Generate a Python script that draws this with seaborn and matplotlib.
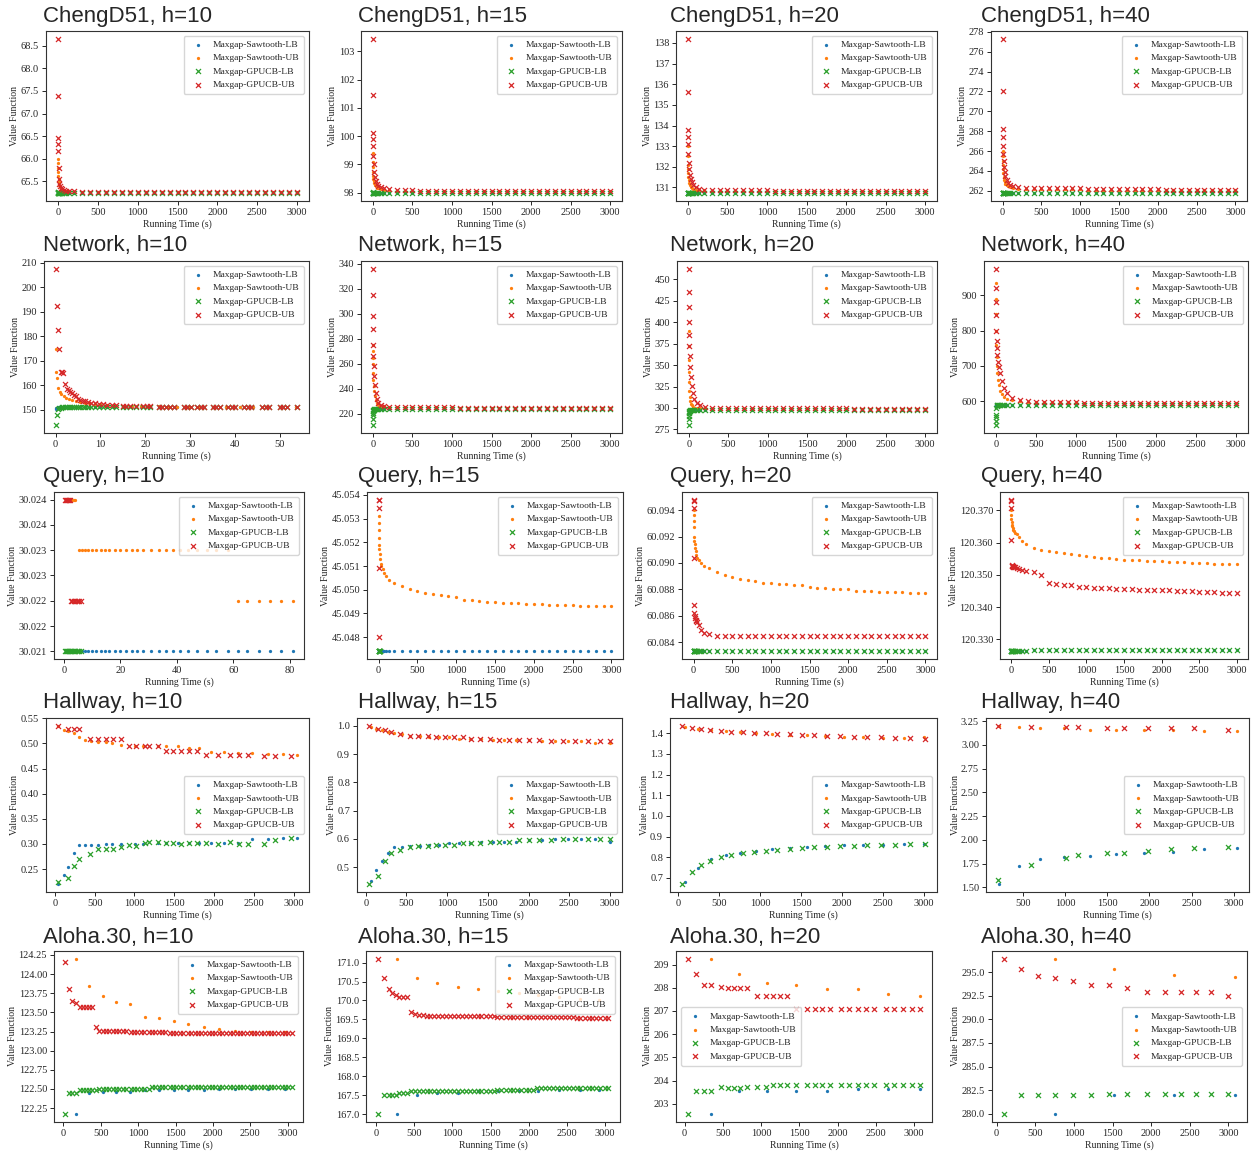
import matplotlib
matplotlib.use('Agg')
import matplotlib.pyplot as plt
import seaborn as sns
from matplotlib.ticker import FormatStrFormatter, MultipleLocator

sns.set_style('ticks')
plt.rcParams['font.family'] = ['Liberation Serif', 'DejaVu Serif']
plt.rcParams['axes.formatter.useoffset'] = False

# ---------------- labels ----------------
series_labels = ['Maxgap-Sawtooth-LB', 'Maxgap-Sawtooth-UB', 'Maxgap-GPUCB-LB', 'Maxgap-GPUCB-UB']
titles = [['ChengD51, h=10', 'ChengD51, h=15', 'ChengD51, h=20', 'ChengD51, h=40'],
          ['Network, h=10', 'Network, h=15', 'Network, h=20', 'Network, h=40'],
          ['Query, h=10', 'Query, h=15', 'Query, h=20', 'Query, h=40'],
          ['Hallway, h=10', 'Hallway, h=15', 'Hallway, h=20', 'Hallway, h=40'],
          ['Aloha.30, h=10', 'Aloha.30, h=15', 'Aloha.30, h=20', 'Aloha.30, h=40']]

# ---------------- shared time stamps (s) for the long dense runs ----------------
t_grid = [0, 1, 2, 3, 5, 8, 12, 18, 25, 35, 50, 70, 100, 140, 200,
          300, 400, 500, 600, 700, 800, 900, 1000,
          1100, 1200, 1300, 1400, 1500, 1600, 1700, 1800, 1900, 2000,
          2100, 2200, 2300, 2400, 2500, 2600, 2700, 2800, 2900, 3000]

# ---------------- ChengD51 ----------------
c10_saw_lb = [65.24, 65.24, 65.24, 65.24, 65.24, 65.24, 65.24, 65.24, 65.24, 65.24, 65.24, 65.24, 65.24, 65.24, 65.24,
              65.24, 65.24, 65.24, 65.24, 65.24, 65.24, 65.24, 65.24,
              65.24, 65.24, 65.24, 65.24, 65.24, 65.24, 65.24, 65.24, 65.24, 65.24,
              65.24, 65.24, 65.24, 65.24, 65.24, 65.24, 65.24, 65.24, 65.24, 65.24]
c10_saw_ub = [66.00, 65.90, 65.80, 65.72, 65.62, 65.55, 65.48, 65.42, 65.38, 65.35, 65.32, 65.30, 65.29, 65.28, 65.275,
              65.27, 65.27, 65.27, 65.27, 65.27, 65.27, 65.265, 65.265,
              65.265, 65.265, 65.265, 65.265, 65.265, 65.26, 65.26, 65.26, 65.26, 65.26,
              65.26, 65.26, 65.26, 65.26, 65.26, 65.26, 65.26, 65.26, 65.26, 65.26]
c10_gp_lb = [65.27, 65.26, 65.25, 65.245, 65.24, 65.24, 65.24, 65.24, 65.24, 65.24, 65.24, 65.24, 65.24, 65.24, 65.24,
             65.24, 65.24, 65.24, 65.24, 65.24, 65.24, 65.24, 65.24,
             65.24, 65.24, 65.24, 65.24, 65.24, 65.24, 65.24, 65.24, 65.24, 65.24,
             65.24, 65.24, 65.24, 65.24, 65.24, 65.24, 65.24, 65.24, 65.24, 65.24]
c10_gp_ub = [68.65, 67.38, 66.45, 66.32, 66.18, 65.80, 65.55, 65.45, 65.40, 65.36, 65.33, 65.31, 65.30, 65.29, 65.28,
             65.275, 65.27, 65.27, 65.27, 65.27, 65.27, 65.265, 65.265,
             65.265, 65.265, 65.265, 65.265, 65.265, 65.26, 65.26, 65.26, 65.26, 65.26,
             65.26, 65.26, 65.26, 65.26, 65.26, 65.26, 65.26, 65.26, 65.26, 65.26]

c15_saw_lb = [97.98, 97.98, 97.98, 97.98, 97.98, 97.98, 97.98, 97.98, 97.98, 97.98, 97.98, 97.98, 97.98, 97.98, 97.98,
              97.98, 97.98, 97.98, 97.98, 97.98, 97.98, 97.98, 97.98,
              97.98, 97.98, 97.98, 97.98, 97.98, 97.98, 97.98, 97.98, 97.98, 97.98,
              97.98, 97.98, 97.98, 97.98, 97.98, 97.98, 97.98, 97.98, 97.98, 97.98]
c15_saw_ub = [99.40, 99.10, 98.90, 98.75, 98.60, 98.50, 98.40, 98.33, 98.27, 98.22, 98.18, 98.15, 98.12, 98.10, 98.08,
              98.07, 98.07, 98.07, 98.07, 98.07, 98.07, 98.07, 98.07,
              98.06, 98.06, 98.06, 98.06, 98.06, 98.06, 98.06, 98.06, 98.06, 98.06,
              98.05, 98.05, 98.05, 98.05, 98.05, 98.05, 98.05, 98.05, 98.05, 98.05]
c15_gp_lb = [98.02, 98.00, 97.99, 97.98, 97.98, 97.98, 97.98, 97.98, 97.98, 97.98, 97.98, 97.98, 97.98, 97.98, 97.98,
             97.98, 97.98, 97.98, 97.98, 97.98, 97.98, 97.98, 97.98,
             97.98, 97.98, 97.98, 97.98, 97.98, 97.98, 97.98, 97.98, 97.98, 97.98,
             97.98, 97.98, 97.98, 97.98, 97.98, 97.98, 97.98, 97.98, 97.98, 97.98]
c15_gp_ub = [103.45, 101.45, 100.10, 99.90, 99.65, 99.30, 99.00, 98.75, 98.55, 98.42, 98.32, 98.25, 98.20, 98.15, 98.12,
             98.09, 98.08, 98.08, 98.07, 98.07, 98.07, 98.07, 98.07,
             98.06, 98.06, 98.06, 98.06, 98.06, 98.06, 98.06, 98.06, 98.06, 98.06,
             98.05, 98.05, 98.05, 98.05, 98.05, 98.05, 98.05, 98.05, 98.05, 98.05]

c20_saw_lb = [130.72, 130.72, 130.72, 130.72, 130.72, 130.72, 130.72, 130.72, 130.72, 130.72, 130.72, 130.72, 130.72, 130.72, 130.72,
              130.72, 130.72, 130.72, 130.72, 130.72, 130.72, 130.72, 130.72,
              130.72, 130.72, 130.72, 130.72, 130.72, 130.72, 130.72, 130.72, 130.72, 130.72,
              130.72, 130.72, 130.72, 130.72, 130.72, 130.72, 130.72, 130.72, 130.72, 130.72]
c20_saw_ub = [133.00, 132.50, 132.10, 131.90, 131.70, 131.50, 131.35, 131.20, 131.10, 131.02, 130.97, 130.93, 130.90, 130.88, 130.86,
              130.85, 130.85, 130.85, 130.85, 130.85, 130.85, 130.85, 130.85,
              130.83, 130.83, 130.83, 130.83, 130.83, 130.83, 130.83, 130.83, 130.83, 130.83,
              130.82, 130.82, 130.82, 130.82, 130.82, 130.82, 130.82, 130.82, 130.82, 130.82]
c20_gp_lb = [130.72, 130.72, 130.72, 130.72, 130.72, 130.72, 130.72, 130.72, 130.72, 130.72, 130.72, 130.72, 130.72, 130.72, 130.72,
             130.72, 130.72, 130.72, 130.72, 130.72, 130.72, 130.72, 130.72,
             130.72, 130.72, 130.72, 130.72, 130.72, 130.72, 130.72, 130.72, 130.72, 130.72,
             130.72, 130.72, 130.72, 130.72, 130.72, 130.72, 130.72, 130.72, 130.72, 130.72]
c20_gp_ub = [138.20, 135.60, 133.80, 133.45, 133.10, 132.60, 132.20, 131.90, 131.60, 131.40, 131.25, 131.10, 131.00, 130.95, 130.90,
             130.88, 130.88, 130.88, 130.88, 130.88, 130.88, 130.88, 130.88,
             130.85, 130.85, 130.85, 130.85, 130.85, 130.85, 130.85, 130.85, 130.85, 130.85,
             130.83, 130.83, 130.83, 130.83, 130.83, 130.83, 130.83, 130.83, 130.83, 130.83]

c40_saw_lb = [261.75, 261.75, 261.75, 261.75, 261.75, 261.75, 261.75, 261.75, 261.75, 261.75, 261.75, 261.75, 261.75, 261.75, 261.75,
              261.75, 261.75, 261.75, 261.75, 261.75, 261.75, 261.75, 261.75,
              261.75, 261.75, 261.75, 261.75, 261.75, 261.75, 261.75, 261.75, 261.75, 261.75,
              261.75, 261.75, 261.75, 261.75, 261.75, 261.75, 261.75, 261.75, 261.75, 261.75]
c40_saw_ub = [266.0, 265.5, 265.0, 264.6, 264.2, 263.8, 263.4, 263.1, 262.9, 262.7, 262.55, 262.45, 262.35, 262.28, 262.22,
              262.15, 262.15, 262.15, 262.15, 262.15, 262.15, 262.15, 262.15,
              262.1, 262.1, 262.1, 262.1, 262.1, 262.1, 262.1, 262.1, 262.1, 262.1,
              262.05, 262.05, 262.05, 262.05, 262.05, 262.05, 262.05, 262.05, 262.05, 262.05]
c40_gp_lb = [261.75, 261.75, 261.75, 261.75, 261.75, 261.75, 261.75, 261.75, 261.75, 261.75, 261.75, 261.75, 261.75, 261.75, 261.75,
             261.75, 261.75, 261.75, 261.75, 261.75, 261.75, 261.75, 261.75,
             261.75, 261.75, 261.75, 261.75, 261.75, 261.75, 261.75, 261.75, 261.75, 261.75,
             261.75, 261.75, 261.75, 261.75, 261.75, 261.75, 261.75, 261.75, 261.75, 261.75]
c40_gp_ub = [277.3, 272.0, 268.2, 267.4, 266.5, 265.7, 265.0, 264.4, 263.9, 263.5, 263.1, 262.8, 262.6, 262.45, 262.35,
             262.25, 262.25, 262.25, 262.25, 262.25, 262.25, 262.25, 262.25,
             262.15, 262.15, 262.15, 262.15, 262.15, 262.15, 262.15, 262.15, 262.15, 262.15,
             262.1, 262.1, 262.1, 262.1, 262.1, 262.1, 262.1, 262.1, 262.1, 262.1]

# ---------------- Network ----------------
n10_t_saw = [0.1, 0.2, 0.4, 0.6, 0.9, 1.3, 1.8, 2.4, 3.0, 3.7,
             4.5, 5.5, 6.5, 7.5, 8.7, 10.0, 11.5, 13.0, 15.0, 17.0,
             19.0, 21.0, 23.0, 25.0, 27.0, 29.5, 32.0, 35.0, 38.0, 41.0,
             44.0, 47.0, 50.0, 53.5]
n10_saw_lb = [150.5, 150.9, 151.0, 151.1, 151.15, 151.2, 151.2, 151.25, 151.25, 151.3,
              151.3, 151.3, 151.3, 151.3, 151.3, 151.3, 151.3, 151.3, 151.3, 151.3,
              151.3, 151.3, 151.3, 151.3, 151.3, 151.3, 151.3, 151.3, 151.3, 151.3,
              151.3, 151.3, 151.3, 151.3]
n10_saw_ub = [175.0, 165.5, 163.0, 159.0, 157.5, 156.3, 155.5, 154.8, 154.3, 153.9,
              153.5, 153.2, 153.0, 152.8, 152.5, 152.3, 152.1, 151.9, 151.8, 151.7,
              151.6, 151.5, 151.45, 151.4, 151.35, 151.3, 151.3, 151.25, 151.25, 151.2,
              151.2, 151.2, 151.2, 151.2]
n10_t_gp = [0.2, 0.3, 0.5, 0.8, 1.1, 1.4, 1.7, 2.1, 2.5, 2.9,
            3.3, 3.7, 4.1, 4.5, 5.0, 5.5, 6.0, 6.6, 7.2, 8.0,
            8.8, 9.6, 10.5, 11.5, 12.5, 13.5, 15.0, 15.8, 16.5, 18.0,
            19.5, 20.3, 21.0, 23.0, 23.8, 24.6, 25.5, 26.3, 28.6, 29.3,
            30.1, 31.5, 32.3, 33.0, 35.0, 35.8, 36.6, 38.5, 39.3, 40.0,
            42.0, 42.8, 43.5, 46.0, 46.8, 47.5, 50.0, 50.8, 51.5, 53.8]
n10_gp_lb = [143.8, 148.0, 150.5, 150.9, 151.0, 151.1, 151.2, 151.2, 151.25, 151.25,
             151.3, 151.3, 151.3, 151.3, 151.3, 151.3, 151.3, 151.3, 151.3, 151.3,
             151.3, 151.3, 151.3, 151.3, 151.3, 151.3, 151.3, 151.3, 151.3, 151.3,
             151.3, 151.3, 151.3, 151.3, 151.3, 151.3, 151.3, 151.3, 151.3, 151.3,
             151.3, 151.3, 151.3, 151.3, 151.3, 151.3, 151.3, 151.3, 151.3, 151.3,
             151.3, 151.3, 151.3, 151.3, 151.3, 151.3, 151.3, 151.3, 151.3, 151.3]
n10_gp_ub = [207.5, 192.5, 182.5, 175.0, 165.5, 165.3, 165.0, 160.5, 158.5, 158.0,
             157.5, 157.0, 156.0, 155.5, 154.5, 154.0, 153.8, 153.5, 153.2, 153.0,
             152.8, 152.5, 152.3, 152.1, 152.0, 151.9, 151.8, 151.7, 151.7, 151.6,
             151.5, 151.5, 151.5, 151.4, 151.4, 151.4, 151.3, 151.3, 151.3, 151.3,
             151.3, 151.3, 151.2, 151.2, 151.2, 151.2, 151.2, 151.2, 151.2, 151.2,
             151.2, 151.2, 151.2, 151.2, 151.2, 151.2, 151.2, 151.2, 151.2, 151.2]

n15_saw_lb = [223.0, 223.5, 223.8, 223.8, 223.8, 223.8, 223.8, 223.8, 223.8, 223.8, 223.8, 223.8, 223.8, 223.8, 223.8,
              223.8, 223.8, 223.8, 223.8, 223.8, 223.8, 223.8, 223.8,
              223.8, 223.8, 223.8, 223.8, 223.8, 223.8, 223.8, 223.8, 223.8, 223.8,
              223.8, 223.8, 223.8, 223.8, 223.8, 223.8, 223.8, 223.8, 223.8, 223.8]
n15_saw_ub = [275.0, 270.0, 265.0, 260.0, 253.0, 247.0, 242.0, 238.0, 234.0, 231.0, 229.0, 227.5, 226.5, 226.0, 225.7,
              225.3, 225.3, 225.3, 225.3, 225.3, 225.3, 225.3, 225.3,
              225.1, 225.1, 225.1, 225.1, 225.1, 225.1, 225.1, 225.1, 225.1, 225.1,
              224.9, 224.9, 224.9, 224.9, 224.9, 224.9, 224.9, 224.9, 224.9, 224.9]
n15_gp_lb = [211.0, 216.0, 219.0, 221.0, 222.0, 223.0, 223.5, 223.7, 223.8, 223.8, 223.8, 223.8, 223.8, 223.8, 223.8,
             223.8, 223.8, 223.8, 223.8, 223.8, 223.8, 223.8, 223.8,
             223.8, 223.8, 223.8, 223.8, 223.8, 223.8, 223.8, 223.8, 223.8, 223.8,
             223.8, 223.8, 223.8, 223.8, 223.8, 223.8, 223.8, 223.8, 223.8, 223.8]
n15_gp_ub = [336.0, 315.0, 298.0, 288.0, 275.0, 266.0, 258.0, 250.0, 243.0, 237.0, 232.0, 229.0, 227.0, 226.0, 225.5,
             225.2, 225.2, 225.2, 225.2, 225.2, 225.2, 225.2, 225.2,
             225.0, 225.0, 225.0, 225.0, 225.0, 225.0, 225.0, 225.0, 225.0, 225.0,
             224.8, 224.8, 224.8, 224.8, 224.8, 224.8, 224.8, 224.8, 224.8, 224.8]

n20_saw_lb = [294.0, 296.5, 297.5, 297.5, 297.5, 297.5, 297.5, 297.5, 297.5, 297.5, 297.5, 297.5, 297.5, 297.5, 297.5,
              297.5, 297.5, 297.5, 297.5, 297.5, 297.5, 297.5, 297.5,
              297.5, 297.5, 297.5, 297.5, 297.5, 297.5, 297.5, 297.5, 297.5, 297.5,
              297.5, 297.5, 297.5, 297.5, 297.5, 297.5, 297.5, 297.5, 297.5, 297.5]
n20_saw_ub = [390.0, 372.0, 356.0, 342.0, 330.0, 320.0, 313.0, 308.0, 305.0, 303.0, 301.5, 300.5, 300.0, 299.8, 299.6,
              299.4, 299.4, 299.4, 299.4, 299.4, 299.4, 299.4, 299.4,
              299.2, 299.2, 299.2, 299.2, 299.2, 299.2, 299.2, 299.2, 299.2, 299.2,
              299.0, 299.0, 299.0, 299.0, 299.0, 299.0, 299.0, 299.0, 299.0, 299.0]
n20_gp_lb = [280.0, 287.0, 291.0, 294.0, 295.5, 296.5, 297.0, 297.3, 297.5, 297.5, 297.5, 297.5, 297.5, 297.5, 297.5,
             297.5, 297.5, 297.5, 297.5, 297.5, 297.5, 297.5, 297.5,
             297.5, 297.5, 297.5, 297.5, 297.5, 297.5, 297.5, 297.5, 297.5, 297.5,
             297.5, 297.5, 297.5, 297.5, 297.5, 297.5, 297.5, 297.5, 297.5, 297.5]
n20_gp_ub = [462.0, 435.0, 418.0, 400.0, 385.0, 372.0, 360.0, 348.0, 336.0, 326.0, 318.0, 311.0, 306.0, 303.0, 301.0,
             300.2, 300.2, 300.2, 300.2, 300.2, 300.2, 300.2, 300.2,
             299.6, 299.6, 299.6, 299.6, 299.6, 299.6, 299.6, 299.6, 299.6, 299.6,
             299.2, 299.2, 299.2, 299.2, 299.2, 299.2, 299.2, 299.2, 299.2, 299.2]

n40_saw_lb = [586.0, 588.0, 590.0, 590.0, 590.0, 590.0, 590.0, 590.0, 590.0, 590.0, 590.0, 590.0, 590.0, 590.0, 590.0,
              590.0, 590.0, 590.0, 590.0, 590.0, 590.0, 590.0, 590.0,
              590.0, 590.0, 590.0, 590.0, 590.0, 590.0, 590.0, 590.0, 590.0, 590.0,
              590.0, 590.0, 590.0, 590.0, 590.0, 590.0, 590.0, 590.0, 590.0, 590.0]
n40_saw_ub = [935.0, 890.0, 848.0, 800.0, 760.0, 725.0, 700.0, 680.0, 660.0, 645.0, 630.0, 620.0, 612.0, 606.0, 603.0,
              600.0, 599.0, 598.0, 597.5, 597.0, 597.0, 596.5, 596.5,
              596.0, 596.0, 596.0, 596.0, 596.0, 596.0, 596.0, 596.0, 596.0, 596.0,
              595.0, 595.0, 595.0, 595.0, 595.0, 595.0, 595.0, 595.0, 595.0, 595.0]
n40_gp_lb = [532.0, 545.0, 556.0, 562.0, 580.0, 585.0, 588.0, 589.0, 590.0, 590.0, 590.0, 590.0, 590.0, 590.0, 590.0,
             590.0, 590.0, 590.0, 590.0, 590.0, 590.0, 590.0, 590.0,
             590.0, 590.0, 590.0, 590.0, 590.0, 590.0, 590.0, 590.0, 590.0, 590.0,
             590.0, 590.0, 590.0, 590.0, 590.0, 590.0, 590.0, 590.0, 590.0, 590.0]
n40_gp_ub = [975.0, 920.0, 880.0, 845.0, 800.0, 770.0, 750.0, 730.0, 712.0, 697.0, 680.0, 658.0, 638.0, 622.0, 610.0,
             603.0, 600.0, 599.0, 598.0, 597.5, 597.0, 597.0, 596.5,
             596.0, 596.0, 596.0, 596.0, 596.0, 596.0, 596.0, 596.0, 596.0, 596.0,
             595.0, 595.0, 595.0, 595.0, 595.0, 595.0, 595.0, 595.0, 595.0, 595.0]

# ---------------- Query ----------------
q10_t_saw = [2.5, 3.0, 3.5, 4.0, 5.5, 6.5, 7.5, 8.5, 10, 11.5,
             13, 14.5, 16, 18, 20, 22, 24, 26, 28, 31,
             33.5, 36, 38.5, 41, 44, 47, 50.5, 54, 58, 61.5,
             65, 69, 73, 77, 81]
q10_saw_lb = [30.0210, 30.0210, 30.0210, 30.0210, 30.0210, 30.0210, 30.0210, 30.0210, 30.0210, 30.0210,
              30.0210, 30.0210, 30.0210, 30.0210, 30.0210, 30.0210, 30.0210, 30.0210, 30.0210, 30.0210,
              30.0210, 30.0210, 30.0210, 30.0210, 30.0210, 30.0210, 30.0210, 30.0210, 30.0210, 30.0210,
              30.0210, 30.0210, 30.0210, 30.0210, 30.0210]
q10_saw_ub = [30.0240, 30.0240, 30.0240, 30.0240, 30.0230, 30.0230, 30.0230, 30.0230, 30.0230, 30.0230,
              30.0230, 30.0230, 30.0230, 30.0230, 30.0230, 30.0230, 30.0230, 30.0230, 30.0230, 30.0230,
              30.0230, 30.0230, 30.0230, 30.0230, 30.0230, 30.0230, 30.0230, 30.0230, 30.0230, 30.0220,
              30.0220, 30.0220, 30.0220, 30.0220, 30.0220]
q10_t_gp = [0.5, 0.8, 1.1, 1.4, 1.7, 2.0, 2.5, 3.0, 3.5, 4.0, 4.5, 5.0, 5.5, 6.0]
q10_gp_lb = [30.0210, 30.0210, 30.0210, 30.0210, 30.0210, 30.0210, 30.0210,
             30.0210, 30.0210, 30.0210, 30.0210, 30.0210, 30.0210, 30.0210]
q10_gp_ub = [30.0240, 30.0240, 30.0240, 30.0240, 30.0240, 30.0240, 30.0220,
             30.0220, 30.0220, 30.0220, 30.0220, 30.0220, 30.0220, 30.0220]

q15_saw_lb = [45.0474, 45.0474, 45.0474, 45.0474, 45.0474, 45.0474, 45.0474, 45.0474, 45.0474, 45.0474, 45.0474, 45.0474, 45.0474, 45.0474, 45.0474,
              45.0474, 45.0474, 45.0474, 45.0474, 45.0474, 45.0474, 45.0474, 45.0474,
              45.0474, 45.0474, 45.0474, 45.0474, 45.0474, 45.0474, 45.0474, 45.0474, 45.0474, 45.0474,
              45.0474, 45.0474, 45.0474, 45.0474, 45.0474, 45.0474, 45.0474, 45.0474, 45.0474, 45.0474]
q15_saw_ub = [45.0531, 45.0528, 45.0525, 45.0522, 45.0519, 45.0517, 45.0515, 45.0513, 45.0511, 45.0510, 45.05086, 45.0507, 45.05057, 45.0504, 45.0503,
              45.05014, 45.05005, 45.04996, 45.04988, 45.04982, 45.04976, 45.04972, 45.04968,
              45.04958, 45.04955, 45.04952, 45.04950, 45.04948, 45.04946, 45.04944, 45.04942, 45.04940, 45.04939,
              45.04938, 45.04937, 45.04936, 45.04935, 45.04934, 45.04933, 45.04932, 45.04932, 45.04931, 45.04930]
q15_t_gp_lb = [1, 2, 3, 4, 6, 9, 12, 16, 20]
q15_gp_lb = [45.0474, 45.0474, 45.0474, 45.0474, 45.0474, 45.0474, 45.0474, 45.0474, 45.0474]
q15_t_gp_ub = [2, 3, 4, 5, 6]
q15_gp_ub = [45.0538, 45.0538, 45.05345, 45.0509, 45.0480]

q20_saw_lb = [60.0833, 60.0833, 60.0833, 60.0833, 60.0833, 60.0833, 60.0833, 60.0833, 60.0833, 60.0833, 60.0833, 60.0833, 60.0833, 60.0833, 60.0833,
              60.0833, 60.0833, 60.0833, 60.0833, 60.0833, 60.0833, 60.0833, 60.0833,
              60.0833, 60.0833, 60.0833, 60.0833, 60.0833, 60.0833, 60.0833, 60.0833, 60.0833, 60.0833,
              60.0833, 60.0833, 60.0833, 60.0833, 60.0833, 60.0833, 60.0833, 60.0833, 60.0833, 60.0833]
q20_saw_ub = [60.0940, 60.0936, 60.0932, 60.0927, 60.0920, 60.0917, 60.0914, 60.0911, 60.0909, 60.0906, 60.0904, 60.0902, 60.0900, 60.0898, 60.0896,
              60.0893, 60.0891, 60.0889, 60.0888, 60.0887, 60.0886, 60.0885, 60.0885,
              60.0884, 60.0884, 60.0883, 60.0883, 60.0882, 60.0881, 60.0881, 60.0880, 60.0880, 60.0880,
              60.0879, 60.0879, 60.0879, 60.0878, 60.0878, 60.0878, 60.0878, 60.0877, 60.0877, 60.0877]
q20_gp_lb = [60.0833, 60.0833, 60.0833, 60.0833, 60.0833, 60.0833, 60.0833, 60.0833, 60.0833, 60.0833, 60.0833, 60.0833, 60.0833, 60.0833, 60.0833,
             60.0833, 60.0833, 60.0833, 60.0833, 60.0833, 60.0833, 60.0833, 60.0833,
             60.0833, 60.0833, 60.0833, 60.0833, 60.0833, 60.0833, 60.0833, 60.0833, 60.0833, 60.0833,
             60.0833, 60.0833, 60.0833, 60.0833, 60.0833, 60.0833, 60.0833, 60.0833, 60.0833, 60.0833]
q20_gp_ub = [60.0948, 60.0947, 60.0942, 60.0904, 60.0868, 60.0862, 60.0860, 60.0858, 60.0857, 60.0856, 60.0855, 60.0853, 60.0849, 60.0847, 60.0846,
             60.0845, 60.0845, 60.0845, 60.0845, 60.0845, 60.0845, 60.0845, 60.0845,
             60.0845, 60.0845, 60.0845, 60.0845, 60.0845, 60.0845, 60.0845, 60.0845, 60.0845, 60.0845,
             60.0845, 60.0845, 60.0845, 60.0845, 60.0845, 60.0845, 60.0845, 60.0845, 60.0845, 60.0845]

q40_saw_lb = [120.3265, 120.3265, 120.3265, 120.3265, 120.3265, 120.3265, 120.3265, 120.3265, 120.3265, 120.3265, 120.3265, 120.3265, 120.3265, 120.3265, 120.3265,
              120.3266, 120.3266, 120.3266, 120.3266, 120.3266, 120.3266, 120.3266, 120.3266,
              120.3266, 120.3266, 120.3266, 120.3266, 120.3266, 120.3266, 120.3266, 120.3266, 120.3266, 120.3266,
              120.3267, 120.3267, 120.3267, 120.3267, 120.3267, 120.3267, 120.3267, 120.3267, 120.3267, 120.3268]
q40_saw_ub = [120.3705, 120.3700, 120.3685, 120.3672, 120.3665, 120.3655, 120.3650, 120.3645, 120.3640, 120.3635, 120.3630, 120.3625, 120.3618, 120.3605, 120.3595,
              120.3583, 120.3578, 120.3575, 120.3571, 120.3567, 120.3564, 120.3561, 120.3558,
              120.3555, 120.3553, 120.3551, 120.3549, 120.3547, 120.3546, 120.3545, 120.3544, 120.3543, 120.3542,
              120.3541, 120.3540, 120.3539, 120.3538, 120.3537, 120.3536, 120.3535, 120.3534, 120.3534, 120.3533]
q40_gp_lb = [120.3263, 120.3264, 120.3265, 120.3265, 120.3265, 120.3265, 120.3265, 120.3265, 120.3265, 120.3265, 120.3265, 120.3265, 120.3265, 120.3265, 120.3265,
             120.3266, 120.3266, 120.3266, 120.3266, 120.3266, 120.3266, 120.3266, 120.3266,
             120.3266, 120.3266, 120.3266, 120.3266, 120.3266, 120.3266, 120.3266, 120.3266, 120.3266, 120.3266,
             120.3267, 120.3267, 120.3267, 120.3267, 120.3267, 120.3267, 120.3267, 120.3267, 120.3267, 120.3267]
q40_gp_ub = [120.3733, 120.3730, 120.3708, 120.3608, 120.3530, 120.3528, 120.3527, 120.3526, 120.3525, 120.3524, 120.3523, 120.3521, 120.3519, 120.3516, 120.3513,
             120.3510, 120.3500, 120.3474, 120.3472, 120.3470, 120.3468, 120.3462, 120.3461,
             120.3460, 120.3459, 120.3458, 120.3457, 120.3456, 120.3455, 120.3454, 120.3453, 120.3453, 120.3452,
             120.3452, 120.3451, 120.3450, 120.3449, 120.3448, 120.3447, 120.3446, 120.3445, 120.3444, 120.3443]

# ---------------- Hallway ----------------
h10_t_saw = [45, 110, 170, 240, 300, 380, 460, 540, 640, 720, 830, 1010, 1110,
             1290, 1400, 1540, 1680, 1810, 1960, 2120, 2300, 2480, 2680, 2860, 3040]
h10_saw_lb = [0.220, 0.238, 0.255, 0.282, 0.297, 0.297, 0.298, 0.297, 0.300, 0.300, 0.300, 0.300, 0.300,
              0.301, 0.301, 0.302, 0.302, 0.302, 0.302, 0.302, 0.302, 0.310, 0.310, 0.311, 0.311]
h10_saw_ub = [0.534, 0.527, 0.525, 0.521, 0.512, 0.507, 0.505, 0.503, 0.502, 0.500, 0.497, 0.495, 0.495,
              0.495, 0.494, 0.494, 0.492, 0.491, 0.484, 0.484, 0.482, 0.481, 0.480, 0.479, 0.478]
h10_t_gp = [40, 160, 240, 305, 440, 540, 640, 730, 830, 930, 1020, 1130, 1180, 1290,
            1400, 1480, 1590, 1690, 1790, 1900, 2050, 2200, 2310, 2430, 2620, 2760, 2960]
h10_gp_lb = [0.224, 0.233, 0.256, 0.270, 0.279, 0.289, 0.290, 0.290, 0.293, 0.298, 0.296, 0.302, 0.303, 0.303,
             0.301, 0.301, 0.300, 0.301, 0.301, 0.302, 0.299, 0.303, 0.300, 0.300, 0.300, 0.308, 0.311]
h10_gp_ub = [0.535, 0.528, 0.528, 0.528, 0.508, 0.508, 0.508, 0.508, 0.508, 0.495, 0.495, 0.495, 0.495, 0.495,
             0.485, 0.485, 0.485, 0.485, 0.485, 0.478, 0.478, 0.478, 0.478, 0.478, 0.475, 0.475, 0.475]

h15_t_saw = [60, 130, 200, 270, 350, 440, 540, 660, 780, 900, 1020, 1150,
             1280, 1420, 1560, 1700, 1850, 2000, 2160, 2320, 2480, 2650, 2820, 3000]
h15_saw_lb = [0.45, 0.49, 0.52, 0.55, 0.57, 0.57, 0.575, 0.575, 0.58, 0.58, 0.585, 0.585,
              0.585, 0.59, 0.59, 0.59, 0.59, 0.595, 0.595, 0.60, 0.60, 0.60, 0.60, 0.59]
h15_saw_ub = [0.995, 0.99, 0.985, 0.98, 0.975, 0.97, 0.965, 0.965, 0.96, 0.96, 0.96, 0.955,
              0.955, 0.955, 0.95, 0.95, 0.95, 0.95, 0.945, 0.945, 0.945, 0.945, 0.94, 0.94]
h15_t_gp = [40, 150, 230, 310, 420, 540, 640, 760, 860, 970, 1080, 1190, 1290,
            1400, 1520, 1640, 1760, 1880, 2000, 2130, 2270, 2420, 2570, 2730, 2880, 3000]
h15_gp_lb = [0.44, 0.47, 0.52, 0.55, 0.56, 0.57, 0.575, 0.575, 0.58, 0.58, 0.58, 0.585, 0.585,
             0.585, 0.59, 0.59, 0.59, 0.595, 0.595, 0.595, 0.595, 0.60, 0.60, 0.60, 0.60, 0.60]
h15_gp_ub = [1.0, 0.99, 0.985, 0.98, 0.97, 0.965, 0.965, 0.965, 0.96, 0.96, 0.96, 0.96, 0.955,
             0.955, 0.955, 0.95, 0.95, 0.95, 0.95, 0.95, 0.945, 0.945, 0.945, 0.945, 0.945, 0.945]

h20_t_saw = [80, 240, 400, 580, 760, 950, 1150, 1360, 1570, 1790, 2020, 2260, 2500, 2750, 3000]
h20_saw_lb = [0.68, 0.75, 0.79, 0.81, 0.82, 0.83, 0.84, 0.845, 0.85, 0.855, 0.86, 0.86, 0.86, 0.865, 0.865]
h20_saw_ub = [1.43, 1.42, 1.415, 1.41, 1.405, 1.40, 1.395, 1.39, 1.39, 1.385, 1.38, 1.38, 1.375, 1.375, 1.38]
h20_t_gp = [50, 170, 280, 390, 520, 650, 790, 930, 1070, 1210, 1360,
            1510, 1660, 1820, 1980, 2140, 2310, 2480, 2650, 2830, 3010]
h20_gp_lb = [0.67, 0.73, 0.76, 0.78, 0.80, 0.81, 0.82, 0.825, 0.83, 0.835, 0.84,
             0.845, 0.85, 0.85, 0.855, 0.855, 0.86, 0.86, 0.86, 0.865, 0.865]
h20_gp_ub = [1.435, 1.425, 1.42, 1.415, 1.41, 1.405, 1.405, 1.40, 1.40, 1.395, 1.395,
             1.39, 1.39, 1.385, 1.385, 1.38, 1.38, 1.38, 1.375, 1.375, 1.37]

h40_t_saw = [210, 450, 700, 990, 1290, 1600, 1930, 2280, 2650, 3040]
h40_saw_lb = [1.535, 1.725, 1.795, 1.82, 1.835, 1.85, 1.86, 1.875, 1.90, 1.91]
h40_saw_ub = [3.195, 3.19, 3.18, 3.175, 3.16, 3.155, 3.155, 3.155, 3.15, 3.15]
h40_t_gp = [200, 590, 1010, 1150, 1490, 1700, 1980, 2250, 2530, 2930]
h40_gp_lb = [1.575, 1.735, 1.805, 1.845, 1.865, 1.865, 1.885, 1.90, 1.915, 1.925]
h40_gp_ub = [3.20, 3.19, 3.185, 3.185, 3.175, 3.175, 3.175, 3.175, 3.175, 3.155]

# ---------------- Aloha.30 ----------------
a10_t_saw = [170, 345, 525, 705, 895, 1085, 1275, 1475, 1670, 1875, 2085, 2295, 2515, 2735, 2960]
a10_saw_lb = [122.17, 122.45, 122.46, 122.46, 122.46, 122.48, 122.49, 122.49, 122.49, 122.49,
              122.50, 122.50, 122.50, 122.50, 122.50]
a10_saw_ub = [124.20, 123.85, 123.72, 123.63, 123.61, 123.44, 123.43, 123.39, 123.35, 123.31,
              123.28, 123.26, 123.25, 123.25, 123.24]
a10_t_gp = [25, 75, 120, 170, 225, 265, 305, 345, 385, 430,
            480, 525, 570, 615, 660, 705, 750, 795, 840, 900,
            945, 990, 1035, 1080, 1140, 1185, 1230, 1275, 1320, 1365,
            1420, 1465, 1510, 1555, 1600, 1665, 1710, 1755, 1800, 1845,
            1890, 1945, 1990, 2035, 2080, 2125, 2170, 2230, 2275, 2320,
            2365, 2410, 2460, 2505, 2550, 2595, 2640, 2690, 2735, 2780,
            2825, 2870, 2920, 2965, 3010, 3055]
a10_gp_lb = [122.17, 122.45, 122.45, 122.45, 122.49, 122.49, 122.49, 122.49, 122.49, 122.49,
             122.50, 122.50, 122.50, 122.50, 122.50, 122.50, 122.50, 122.50, 122.50, 122.50,
             122.50, 122.50, 122.50, 122.50, 122.50, 122.52, 122.52, 122.52, 122.52, 122.52,
             122.52, 122.52, 122.52, 122.52, 122.52, 122.53, 122.53, 122.53, 122.53, 122.53,
             122.53, 122.53, 122.53, 122.53, 122.53, 122.53, 122.53, 122.53, 122.53, 122.53,
             122.53, 122.53, 122.53, 122.53, 122.53, 122.53, 122.53, 122.53, 122.53, 122.53,
             122.53, 122.53, 122.53, 122.53, 122.53, 122.53]
a10_gp_ub = [124.16, 123.80, 123.65, 123.62, 123.57, 123.57, 123.57, 123.57, 123.57, 123.31,
             123.26, 123.26, 123.26, 123.26, 123.26, 123.26, 123.26, 123.26, 123.26, 123.245,
             123.245, 123.245, 123.245, 123.245, 123.245, 123.245, 123.245, 123.245, 123.245, 123.245,
             123.235, 123.235, 123.235, 123.235, 123.235, 123.23, 123.23, 123.23, 123.23, 123.23,
             123.23, 123.23, 123.23, 123.23, 123.23, 123.23, 123.23, 123.23, 123.23, 123.23,
             123.23, 123.23, 123.23, 123.23, 123.23, 123.23, 123.23, 123.23, 123.23, 123.23,
             123.23, 123.23, 123.23, 123.23, 123.23, 123.23]

a15_t_saw = [270, 540, 800, 1070, 1340, 1600, 1870, 2130, 2400, 2670, 2930]
a15_saw_lb = [167.0, 167.5, 167.55, 167.55, 167.6, 167.6, 167.6, 167.6, 167.65, 167.65, 167.65]
a15_saw_ub = [171.1, 170.6, 170.45, 170.35, 170.3, 170.25, 170.2, 170.15, 170.1, 170.05, 170.0]
a15_t_gp = [15, 100, 160, 210, 260, 300, 350, 400, 460, 510,
            560, 610, 660, 710, 760, 810, 860, 920, 970, 1020,
            1070, 1120, 1180, 1230, 1280, 1330, 1380, 1440, 1490, 1540,
            1590, 1640, 1700, 1750, 1800, 1850, 1900, 1960, 2010, 2060,
            2110, 2160, 2220, 2270, 2320, 2370, 2420, 2480, 2530, 2580,
            2630, 2680, 2740, 2790, 2840, 2890, 2940, 3000, 3050]
a15_gp_lb = [167.0, 167.5, 167.5, 167.5, 167.5, 167.55, 167.55, 167.55, 167.6, 167.6,
             167.6, 167.6, 167.6, 167.6, 167.6, 167.6, 167.6, 167.6, 167.6, 167.6,
             167.62, 167.62, 167.62, 167.62, 167.62, 167.62, 167.62, 167.62, 167.62, 167.62,
             167.65, 167.65, 167.65, 167.65, 167.65, 167.65, 167.65, 167.65, 167.65, 167.65,
             167.68, 167.68, 167.68, 167.68, 167.68, 167.68, 167.68, 167.68, 167.68, 167.68,
             167.7, 167.7, 167.7, 167.7, 167.7, 167.7, 167.7, 167.7, 167.7]
a15_gp_ub = [171.1, 170.6, 170.3, 170.2, 170.15, 170.1, 170.1, 170.1, 169.7, 169.65,
             169.62, 169.62, 169.6, 169.6, 169.6, 169.6, 169.6, 169.6, 169.6, 169.6,
             169.58, 169.58, 169.58, 169.58, 169.58, 169.58, 169.58, 169.58, 169.58, 169.58,
             169.57, 169.57, 169.57, 169.57, 169.57, 169.57, 169.57, 169.57, 169.57, 169.57,
             169.56, 169.56, 169.56, 169.56, 169.56, 169.56, 169.56, 169.56, 169.56, 169.56,
             169.55, 169.55, 169.55, 169.55, 169.55, 169.55, 169.55, 169.55, 169.55]

a20_t_saw = [350, 710, 1080, 1460, 1860, 2260, 2660, 3070]
a20_saw_lb = [202.55, 203.55, 203.57, 203.57, 203.57, 203.65, 203.65, 203.65]
a20_saw_ub = [209.25, 208.58, 208.22, 208.12, 207.95, 207.93, 207.73, 207.65]
a20_t_gp = [40, 150, 250, 350, 470, 570, 650, 730, 820, 940, 1060, 1150, 1240, 1340, 1460,
            1600, 1700, 1800, 1900, 2040, 2150, 2260, 2370, 2480, 2630, 2740, 2850, 2970, 3080]
a20_gp_lb = [202.55, 203.55, 203.56, 203.56, 203.72, 203.70, 203.70, 203.70, 203.72, 203.72, 203.72, 203.82, 203.82, 203.82, 203.82,
             203.82, 203.82, 203.82, 203.82, 203.82, 203.82, 203.82, 203.82, 203.82, 203.82, 203.82, 203.82, 203.82, 203.82]
a20_gp_ub = [209.25, 208.58, 208.10, 208.10, 208.02, 207.98, 207.98, 207.98, 207.98, 207.65, 207.63, 207.63, 207.63, 207.63, 207.10,
             207.10, 207.10, 207.10, 207.10, 207.08, 207.08, 207.08, 207.08, 207.08, 207.07, 207.07, 207.07, 207.07, 207.07]

a40_t_saw = [760, 1520, 2290, 3090]
a40_saw_lb = [279.95, 282.0, 282.0, 282.0]
a40_saw_ub = [296.4, 295.3, 294.7, 294.5]
a40_t_gp = [90, 320, 540, 760, 990, 1220, 1450, 1690, 1940, 2180, 2380, 2580, 2780, 2990]
a40_gp_lb = [279.95, 282.0, 282.0, 282.0, 282.0, 282.0, 282.1, 282.1, 282.1, 282.1, 282.1, 282.1, 282.1, 282.1]
a40_gp_ub = [296.4, 295.3, 294.6, 294.4, 294.0, 293.6, 293.6, 293.3, 292.9, 292.9, 292.9, 292.9, 292.9, 292.5]

# ---------------- panel table (built from the arrays above) ----------------
panel_series = [
    [[(t_grid, c10_saw_lb), (t_grid, c10_saw_ub), (t_grid, c10_gp_lb), (t_grid, c10_gp_ub)],
     [(t_grid, c15_saw_lb), (t_grid, c15_saw_ub), (t_grid, c15_gp_lb), (t_grid, c15_gp_ub)],
     [(t_grid, c20_saw_lb), (t_grid, c20_saw_ub), (t_grid, c20_gp_lb), (t_grid, c20_gp_ub)],
     [(t_grid, c40_saw_lb), (t_grid, c40_saw_ub), (t_grid, c40_gp_lb), (t_grid, c40_gp_ub)]],
    [[(n10_t_saw, n10_saw_lb), (n10_t_saw, n10_saw_ub), (n10_t_gp, n10_gp_lb), (n10_t_gp, n10_gp_ub)],
     [(t_grid, n15_saw_lb), (t_grid, n15_saw_ub), (t_grid, n15_gp_lb), (t_grid, n15_gp_ub)],
     [(t_grid, n20_saw_lb), (t_grid, n20_saw_ub), (t_grid, n20_gp_lb), (t_grid, n20_gp_ub)],
     [(t_grid, n40_saw_lb), (t_grid, n40_saw_ub), (t_grid, n40_gp_lb), (t_grid, n40_gp_ub)]],
    [[(q10_t_saw, q10_saw_lb), (q10_t_saw, q10_saw_ub), (q10_t_gp, q10_gp_lb), (q10_t_gp, q10_gp_ub)],
     [(t_grid, q15_saw_lb), (t_grid, q15_saw_ub), (q15_t_gp_lb, q15_gp_lb), (q15_t_gp_ub, q15_gp_ub)],
     [(t_grid, q20_saw_lb), (t_grid, q20_saw_ub), (t_grid, q20_gp_lb), (t_grid, q20_gp_ub)],
     [(t_grid, q40_saw_lb), (t_grid, q40_saw_ub), (t_grid, q40_gp_lb), (t_grid, q40_gp_ub)]],
    [[(h10_t_saw, h10_saw_lb), (h10_t_saw, h10_saw_ub), (h10_t_gp, h10_gp_lb), (h10_t_gp, h10_gp_ub)],
     [(h15_t_saw, h15_saw_lb), (h15_t_saw, h15_saw_ub), (h15_t_gp, h15_gp_lb), (h15_t_gp, h15_gp_ub)],
     [(h20_t_saw, h20_saw_lb), (h20_t_saw, h20_saw_ub), (h20_t_gp, h20_gp_lb), (h20_t_gp, h20_gp_ub)],
     [(h40_t_saw, h40_saw_lb), (h40_t_saw, h40_saw_ub), (h40_t_gp, h40_gp_lb), (h40_t_gp, h40_gp_ub)]],
    [[(a10_t_saw, a10_saw_lb), (a10_t_saw, a10_saw_ub), (a10_t_gp, a10_gp_lb), (a10_t_gp, a10_gp_ub)],
     [(a15_t_saw, a15_saw_lb), (a15_t_saw, a15_saw_ub), (a15_t_gp, a15_gp_lb), (a15_t_gp, a15_gp_ub)],
     [(a20_t_saw, a20_saw_lb), (a20_t_saw, a20_saw_ub), (a20_t_gp, a20_gp_lb), (a20_t_gp, a20_gp_ub)],
     [(a40_t_saw, a40_saw_lb), (a40_t_saw, a40_saw_ub), (a40_t_gp, a40_gp_lb), (a40_t_gp, a40_gp_ub)]],
]
legend_locs = [['upper right'] * 4,
               ['upper right'] * 4,
               ['upper right'] * 4,
               ['center right'] * 4,
               ['upper right', 'upper right', 'center left', 'center right']]

# y tick spacing per panel
y_steps = [[0.5, 1, 1, 2],
           [10, 20, 25, 100],
           [0.0005, 0.001, 0.002, 0.01],
           [0.05, 0.1, 0.1, 0.25],
           [0.25, 0.5, 1, 2.5]]

# ---------------- layout (pixels) ----------------
W, H = 1252, 1152
row_top = [31, 261, 492, 718, 951]
row_bot = [201, 433, 659, 892, 1122]
title_base = [22, 251, 482, 708, 943]
title_x = [43, 358, 670, 981]
ax_left = [[46, 361, 676, 991], [44, 361, 677, 984], [54, 367, 682, 1000],
           [46, 357, 670, 986], [54, 366, 676, 992]]
ax_right = [[309, 622, 937, 1247], [309, 622, 937, 1248], [304, 623, 937, 1248],
            [309, 622, 937, 1249], [303, 620, 932, 1247]]

colors = sns.color_palette('tab10')[:4]
markers = ['.', '.', 'x', 'x']

fig = plt.figure(figsize=(W / 100, H / 100), dpi=100)

for r in range(5):
    for c in range(4):
        l, rr = ax_left[r][c], ax_right[r][c]
        t, b = row_top[r], row_bot[r]
        ax = fig.add_axes([l / W, 1 - b / H, (rr - l) / W, (b - t) / H])
        for k, (xs, ys) in enumerate(panel_series[r][c]):
            n = min(len(xs), len(ys))
            if markers[k] == '.':
                kw = dict(s=22, linewidth=0)
            else:
                kw = dict(s=13, linewidth=0.9)
            sns.scatterplot(x=list(xs[:n]), y=list(ys[:n]), ax=ax, marker=markers[k],
                            color=colors[k], label=series_labels[k], zorder=2 + k, **kw)
        ax.set_xlabel('Running Time (s)', fontsize=7, labelpad=2)
        ax.set_ylabel('Value Function', fontsize=7, labelpad=1)
        ax.tick_params(labelsize=7.5, length=3, width=0.7, pad=2)
        for sp in ax.spines.values():
            sp.set_linewidth(0.8)
            sp.set_color('#333333')
        ax.yaxis.set_major_locator(MultipleLocator(y_steps[r][c]))
        if r == 2:
            ax.yaxis.set_major_formatter(FormatStrFormatter('%.3f'))
        ax.legend(loc=legend_locs[r][c], fontsize=6.8, labelspacing=0.5,
                  handletextpad=0.6, borderpad=0.5, markerscale=1.0)
        fig.text(title_x[c] / W, 1 - title_base[r] / H, titles[r][c], fontsize=16,
                 family=['Liberation Sans', 'DejaVu Sans'], va='baseline', ha='left')

fig.savefig('out.png', dpi=100)
